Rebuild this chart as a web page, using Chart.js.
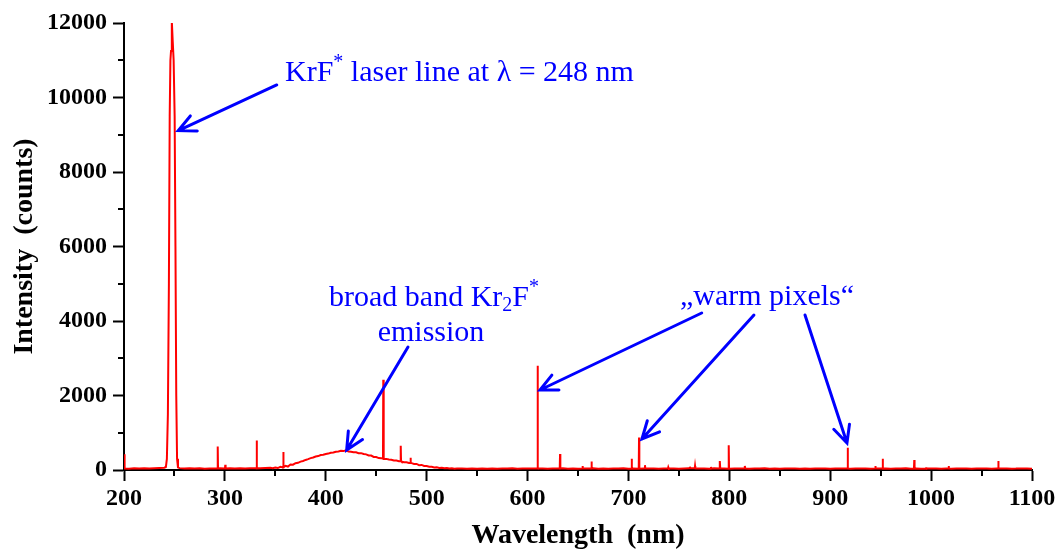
<!DOCTYPE html>
<html>
<head>
<meta charset="utf-8">
<script src="https://cdn.jsdelivr.net/npm/chart.js@4.4.1/dist/chart.umd.min.js"></script>
<style>
  html, body { margin: 0; padding: 0; background: #fff; }
</style>
</head>
<body>
<canvas id="spectrum" width="1060" height="553"></canvas>
<script>
// Continuum (baseline, KrF laser line, Kr2F band)
const wavelengthNm = [
  200, 205, 210, 215, 220, 225, 230, 235, 240,
  241.5, 242.5, 243.5, 244.5, 245.3, 246, 246.6, 247.4, 248.3, 249.2, 250.2, 251, 251.8, 252.6, 253.5,
  255, 260, 265, 270, 275, 280, 285, 290, 295, 300, 305, 310, 315, 320, 325, 330, 335, 340,
  345, 347.5, 350, 352.5, 355, 357.5, 360, 362.5,
  365, 367.5, 370, 372.5, 375, 377.5, 380, 382.5,
  385, 387.5, 390, 392.5, 395, 397.5, 400, 402.5,
  405, 407.5, 410, 412.5, 415, 417.5, 420, 422.5,
  425, 427.5, 430, 432.5, 435, 437.5, 440, 442.5,
  445, 447.5, 450, 452.5, 455, 457.5, 460, 462.5,
  465, 467.5, 470, 472.5, 475, 477.5, 480, 482.5,
  485, 487.5, 490, 492.5, 495, 497.5, 500, 502.5,
  505, 507.5, 510, 512.5, 515, 517.5, 520, 522.5,
  525, 527.5, 530,
  535, 540, 545, 550, 555, 560, 565, 570, 575, 580,
  585, 590, 595, 600, 605, 610, 615, 620, 625, 630,
  635, 640, 645, 650, 655, 660, 665, 670, 675, 680,
  685, 690, 695, 700, 705, 710, 715, 720, 725, 730,
  735, 740, 745, 750, 755, 760, 765, 770, 775, 780,
  785, 790, 795, 800, 805, 810, 815, 820, 825, 830,
  835, 840, 845, 850, 855, 860, 865, 870, 875, 880,
  885, 890, 895, 900, 905, 910, 915, 920, 925, 930,
  935, 940, 945, 950, 955, 960, 965, 970, 975, 980,
  985, 990, 995, 1000, 1005, 1010, 1015, 1020, 1025, 1030,
  1035, 1040, 1045, 1050, 1055, 1060, 1065, 1070, 1075, 1080,
  1085, 1090, 1095, 1100
];
const counts = [
  40, 35, 45, 38, 50, 42, 48, 55, 62,
  80, 300, 1500, 5000, 9500, 11000, 11250, 12050, 11500, 11000, 9500, 6000, 2000, 300, 70,
  50, 38, 46, 40, 44, 36, 42, 40, 45, 38, 44, 40, 48, 42, 46, 44, 48, 52,
  58, 45, 66, 52, 86, 70, 112, 92,
  146, 142, 184, 192, 226, 242, 270, 292,
  318, 336, 362, 374, 402, 410, 430, 440,
  464, 472, 492, 496, 514, 508, 530, 494,
  492, 478, 476, 452, 452, 428, 420, 390,
  388, 350, 348, 320, 318, 298, 298, 280,
  274, 256, 252, 234, 228, 210, 208, 188,
  184, 164, 162, 130, 136, 108, 108, 86,
  88, 70, 72, 56, 60, 46, 52, 40,
  44, 36, 40,
  40, 34, 42, 36, 41, 35, 39, 33, 41, 37,
  44, 35, 40, 38, 43, 36, 40, 34, 42, 38,
  44, 36, 41, 35, 40, 38, 45, 36, 40, 34,
  42, 38, 44, 36, 41, 35, 42, 37, 40, 34,
  43, 38, 40, 35, 42, 45, 48, 38, 42, 36,
  44, 38, 40, 36, 43, 37, 41, 35, 40, 38,
  44, 36, 41, 35, 40, 38, 43, 36, 40, 34,
  42, 38, 41, 36, 43, 37, 40, 35, 42, 38,
  40, 36, 43, 37, 41, 35, 40, 38, 44, 36,
  41, 35, 40, 38, 43, 36, 40, 34, 42, 38,
  41, 36, 43, 37, 40, 35, 42, 38, 40, 36,
  43, 37, 41, 36
];

// Narrow spikes ("warm pixels" and lines): position, top and foot level
const spikeNm    = [200.6, 292.9, 300.4, 331.5, 357.9, 457.0, 474.3, 484.0, 610.0, 632.2, 654.5, 663.4, 703.2, 710.5, 716.4, 739.5, 761, 766, 781.8, 790.7, 799.4, 815.5, 917.3, 944.7, 952, 983.3, 995, 1017.4, 1066.6, 1084.8];
const spikeTop   = [420, 630, 140, 790, 480, 2420, 650, 330, 2800, 430, 110, 230, 300, 870, 130, 70, 90, 110, 80, 240, 665, 110, 600, 110, 300, 270, 75, 110, 240, 65];
const spikeBase  = [40, 40, 40, 44, 75, 305, 240, 190, 38, 38, 40, 40, 36, 36, 40, 38, 45, 45, 38, 38, 36, 40, 38, 38, 37, 36, 38, 38, 40, 40];

const xTitle = 'Wavelength  (nm)';
const yTitle = 'Intensity  (counts)';

// Annotations in data units
const BLUE = '#0000ff';
const notes = [
  { nm: 359.6, counts: 10450, align: 'left',
    parts: [['KrF', 30, 0], ['*', 20, -13], [' laser line at \u03bb = 248 nm', 30, 0]] },
  { nm: 507.3, counts: 4390, align: 'center',
    parts: [['broad band Kr', 30, 0], ['2', 20, 5], ['F', 30, 0], ['*', 20, -13]] },
  { nm: 504.3, counts: 3450, align: 'center', parts: [['emission', 30, 0]] },
  { nm: 751.1, counts: 4430, align: 'left', parts: [['\u201ewarm pixels\u201c', 30, 0]] }
];
const arrows = [
  { from: [351.4, 10336], to: [253.8, 9110] },
  { from: [481.5, 3300], to: [420.7, 537] },
  { from: [772.6, 4215], to: [612.3, 2148] },
  { from: [824.4, 4161], to: [713.4, 832] },
  { from: [875.0, 4161], to: [916.6, 725] }
];

const points = wavelengthNm.map((x, i) => ({ x, y: counts[i] }));
spikeNm.forEach((x, i) => {
  points.push({ x: x - 0.3, y: spikeBase[i] }, { x, y: spikeTop[i] }, { x: x + 0.3, y: spikeBase[i] });
});
points.sort((a, b) => a.x - b.x);

const tickFont = { family: 'Liberation Serif', weight: 'bold', size: 24 };
const titleFont = { family: 'Liberation Serif', weight: 'bold', size: 28 };

// minor ticks are shorter, drawn by hand on the unlabeled ticks
const minorTicks = {
  id: 'minorTicks',
  afterDraw(chart) {
    const { ctx, scales: { x, y }, chartArea } = chart;
    ctx.save();
    ctx.strokeStyle = '#000';
    ctx.lineWidth = 2;
    ctx.beginPath();
    x.ticks.filter(t => t.value % 100 !== 0).forEach(t => {
      const px = Math.round(x.getPixelForValue(t.value));
      ctx.moveTo(px, chartArea.bottom);
      ctx.lineTo(px, chartArea.bottom + 6);
    });
    y.ticks.filter(t => t.value % 2000 !== 0).forEach(t => {
      const py = Math.round(y.getPixelForValue(t.value));
      ctx.moveTo(chartArea.left, py);
      ctx.lineTo(chartArea.left - 6, py);
    });
    ctx.stroke();
    ctx.restore();
  }
};

function drawParts(ctx, parts, x, y, align) {
  let total = 0;
  parts.forEach(([t, size]) => {
    ctx.font = size + 'px "Liberation Serif"';
    total += ctx.measureText(t).width;
  });
  let cx = align === 'center' ? x - total / 2 : x;
  parts.forEach(([t, size, dy]) => {
    ctx.font = size + 'px "Liberation Serif"';
    ctx.fillText(t, cx, y + dy);
    cx += ctx.measureText(t).width;
  });
}

const annotations = {
  id: 'annotations',
  afterDatasetsDraw(chart) {
    const { ctx, scales: { x, y } } = chart;
    ctx.save();
    ctx.fillStyle = BLUE;
    ctx.strokeStyle = BLUE;
    ctx.textBaseline = 'alphabetic';
    ctx.textAlign = 'left';
    notes.forEach(n => drawParts(ctx, n.parts, x.getPixelForValue(n.nm), y.getPixelForValue(n.counts), n.align));

    ctx.lineWidth = 3;
    ctx.lineCap = 'round';
    arrows.forEach(a => {
      const x0 = x.getPixelForValue(a.from[0]), y0 = y.getPixelForValue(a.from[1]);
      const x1 = x.getPixelForValue(a.to[0]), y1 = y.getPixelForValue(a.to[1]);
      const ang = Math.atan2(y1 - y0, x1 - x0);
      const len = 19, spread = 0.45;
      ctx.beginPath();
      ctx.moveTo(x0, y0);
      ctx.lineTo(x1, y1);
      ctx.moveTo(x1 - len * Math.cos(ang - spread), y1 - len * Math.sin(ang - spread));
      ctx.lineTo(x1, y1);
      ctx.lineTo(x1 - len * Math.cos(ang + spread), y1 - len * Math.sin(ang + spread));
      ctx.stroke();
    });
    ctx.restore();
  }
};

new Chart(document.getElementById('spectrum'), {
  type: 'line',
  data: {
    datasets: [{
      data: points,
      borderColor: '#ff0000',
      borderWidth: 2,
      pointRadius: 0,
      tension: 0
    }]
  },
  options: {
    responsive: false,
    animation: false,
    devicePixelRatio: 1,
    layout: { padding: { top: 23, right: 28, left: 0, bottom: 0 } },
    plugins: { legend: { display: false }, tooltip: { enabled: false } },
    scales: {
      x: {
        type: 'linear',
        min: 200, max: 1100,
        afterFit: s => { s.height = 83; },
        border: { display: true, color: '#000', width: 2 },
        grid: {
          drawOnChartArea: false, drawTicks: true, tickLength: 11, tickWidth: 2,
          tickColor: c => (c.tick && c.tick.value % 100 === 0 ? '#000' : 'rgba(0,0,0,0)')
        },
        ticks: {
          stepSize: 50, autoSkip: false, maxRotation: 0, maxTicksLimit: 100, padding: 3,
          color: '#000', font: tickFont,
          callback: v => (v % 100 === 0 ? v : '')
        },
        title: { display: true, text: xTitle, color: '#000', font: titleFont, padding: { top: 0, bottom: 0 } }
      },
      y: {
        min: 0, max: 12000,
        afterFit: s => { s.width = 124; },
        border: { display: true, color: '#000', width: 2 },
        grid: {
          drawOnChartArea: false, drawTicks: true, tickLength: 11, tickWidth: 2,
          tickColor: c => (c.tick && c.tick.value % 2000 === 0 ? '#000' : 'rgba(0,0,0,0)')
        },
        ticks: {
          stepSize: 1000, autoSkip: false, maxTicksLimit: 100, padding: 6,
          color: '#000', font: tickFont,
          callback: v => (v % 2000 === 0 ? v : '')
        },
        title: { display: true, text: yTitle, color: '#000', font: titleFont, padding: { top: 8, bottom: 0 } }
      }
    }
  },
  plugins: [minorTicks, annotations]
});
</script>
</body>
</html>
